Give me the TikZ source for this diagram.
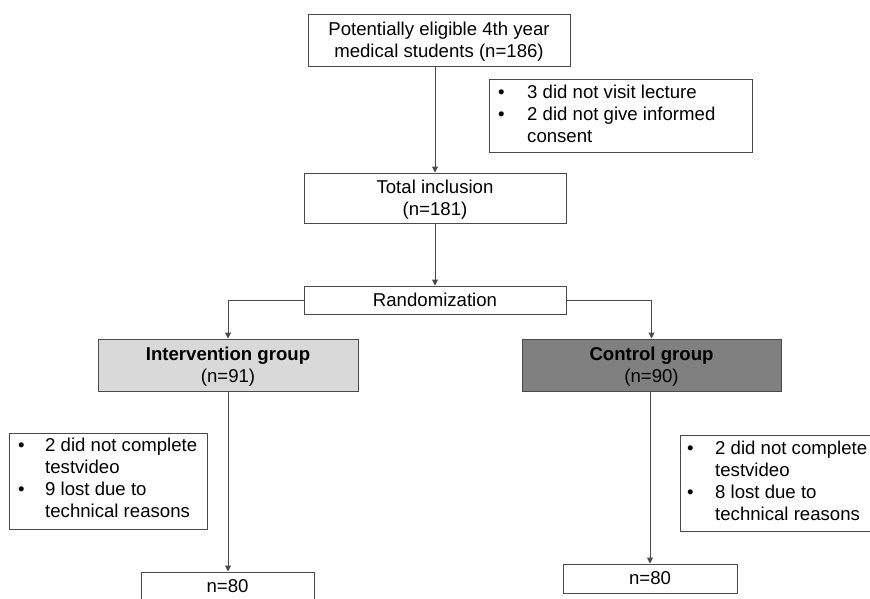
\documentclass[tikz,border=0pt]{standalone}
\usepackage{fontspec}
\setmainfont{Liberation Sans}
\usetikzlibrary{arrows.meta}
\definecolor{lightfill}{HTML}{D9D9D9}
\definecolor{darkfill}{HTML}{808080}
\definecolor{edge}{HTML}{4A4A4A}
\newcommand{\lowr}{\rule{0pt}{16pt}}
\begin{document}
\begin{tikzpicture}[x=1pt,y=-1pt,
 every node/.style={font=\fontsize{18.6}{22}\selectfont, text=black},
 box/.style={draw=edge, line width=1pt, fill=white, align=center, inner sep=0pt},
 txt/.style={inner sep=0pt, anchor=base west, align=left},
 arr/.style={draw=edge, line width=1pt, -{Triangle[width=6pt,length=6pt]}},
]
\useasboundingbox (0,0) rectangle (870,598);
\clip (0,0) rectangle (870,598);
% main flow
\node[box, minimum width=262pt, minimum height=52pt] (top) at (439,40) {\lowr Potentially eligible 4th year\\medical students (n=186)};
\node[box, minimum width=262pt, minimum height=50pt] (tot) at (435,198) {\lowr Total inclusion\\(n=181)};
\node[box, minimum width=262pt, minimum height=28pt] (rand) at (435,300) {Randomization};
\node[box, fill=lightfill, minimum width=260pt, minimum height=52pt] (int) at (228,365) {\lowr\textbf{Intervention group}\\(n=91)};
\node[box, fill=darkfill, minimum width=259pt, minimum height=52pt] (ctl) at (651.5,365) {\lowr\textbf{Control group}\\(n=90)};
\node[box, minimum width=173pt, minimum height=29pt] (resL) at (227.5,586.5) {n=80};
\node[box, minimum width=174pt, minimum height=29pt] (resR) at (650,578.5) {n=80};
% exclusion boxes
\node[box, minimum width=263pt, minimum height=73pt, anchor=north west] (ex1) at (489,79) {};
\node[txt] (ex1t) at (498,98.5) {\begin{tabular}[t]{@{}l@{}l@{}}\makebox[29pt][l]{\textbullet} & 3 did not visit lecture\\ \makebox[29pt][l]{\textbullet} & 2 did not give informed\\ & consent\end{tabular}};
\node[box, minimum width=198pt, minimum height=96pt, anchor=north west] (exL) at (9,433) {};
\node[txt] (exLt) at (18,451.5) {\begin{tabular}[t]{@{}l@{}l@{}}\makebox[27pt][l]{\textbullet} & 2 did not complete\\ & testvideo\\ \makebox[27pt][l]{\textbullet} & 9 lost due to\\ & technical reasons\end{tabular}};
\node[box, minimum width=200pt, minimum height=96pt, anchor=north west] (exR) at (680,435) {};
\node[txt] (exRt) at (687,454.5) {\begin{tabular}[t]{@{}l@{}l@{}}\makebox[28pt][l]{\textbullet} & 2 did not complete\\ & testvideo\\ \makebox[28pt][l]{\textbullet} & 8 lost due to\\ & technical reasons\end{tabular}};
% connectors
\draw[arr] (tot.north |- top.south) -- (tot.north);
\draw[arr] (tot.south) -- (rand.north);
\draw[arr] (rand.west) -| (int.north);
\draw[arr] (rand.east) -| (ctl.north);
\draw[arr] (int.south) -- (int.south |- resL.north);
\draw[arr] (resR.north |- ctl.south) -- (resR.north);
\end{tikzpicture}
\end{document}
